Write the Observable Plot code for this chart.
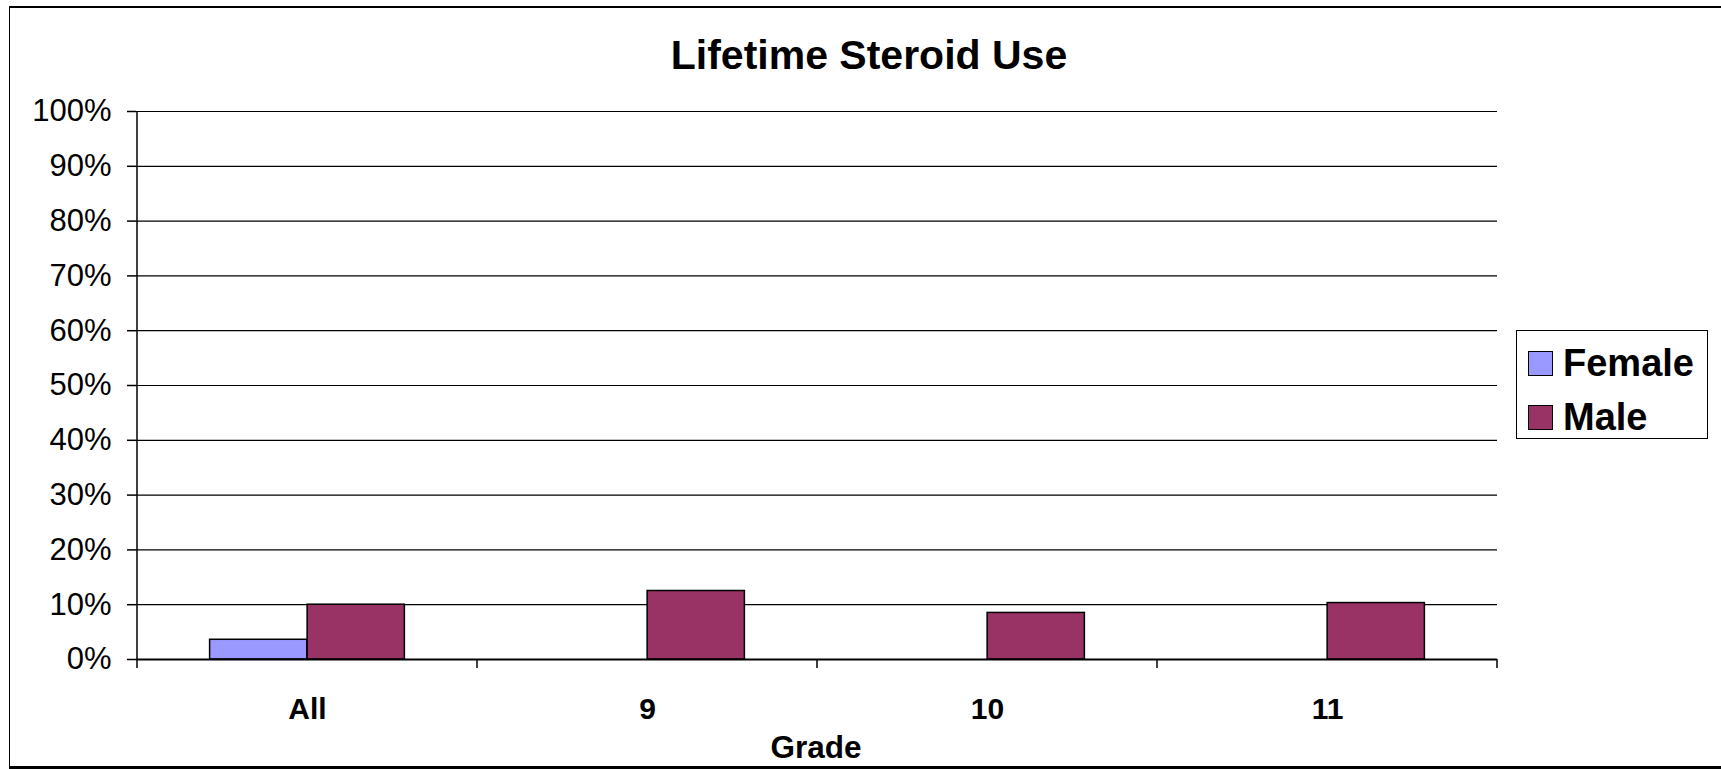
<!DOCTYPE html>
<html>
<head>
<meta charset="utf-8">
<script src="https://cdn.jsdelivr.net/npm/d3@7"></script>
<script src="https://cdn.jsdelivr.net/npm/@observablehq/plot@0.6"></script>
<style>
  html, body { margin: 0; padding: 0; background: #fff; overflow: hidden; }
  #wrap { position: relative; width: 1721px; height: 769px; font-family: "Liberation Sans", Arial, sans-serif; }
  #frame { position: absolute; left: 9px; top: 6px; width: 1730px; height: 758px;
           border-left: 1px solid #000; border-top: 2px solid #000; border-bottom: 3px solid #000; }
  #title { position: absolute; left: 869px; top: 55px; transform: translate(-50%, -50%);
           font-size: 41px; font-weight: bold; white-space: nowrap; color: #000; }
  #xlabel { position: absolute; left: 816px; top: 747px; transform: translate(-50%, -50%);
            font-size: 31.5px; font-weight: bold; white-space: nowrap; color: #000; }
  #legend { position: absolute; left: 1516px; top: 330px; width: 190px; height: 107px;
            border: 1.5px solid #000; background: #fff; }
  .item { position: absolute; left: 11px; height: 30px; display: flex; align-items: center;
          font-size: 38px; font-weight: bold; color: #000; }
  .sw { width: 23px; height: 23px; border: 1.5px solid #000; margin-right: 10px; box-sizing: content-box; }
  #chart { position: absolute; left: 0; top: 0; }
</style>
</head>
<body>
<div id="wrap">
  <div id="frame"></div>
  <div id="chart"></div>
  <div id="title">Lifetime Steroid Use</div>
  <div id="xlabel">Grade</div>
  <div id="legend"></div>
</div>
<script>
// ---- data ----
const grades = ["All", "9", "10", "11"];
const seriesNames = ["Female", "Male"];
const femaleValues = [3.6, null, null, null];
const maleValues = [10.0, 12.5, 8.5, 10.3];
const yTickValues = [0, 10, 20, 30, 40, 50, 60, 70, 80, 90, 100];
const seriesColors = ["#9999FF", "#993366"];
const xAxisLabel = "Grade";

// ---- layout ----
const W = 1721, H = 769;
const mL = 136, mR = 224, mT = 111, mB = 110;
const band = (W - mL - mR) / grades.length;
const barW = band * 0.2866;
const outer = band / 2 - barW;

const table = grades.map((g, i) => ({grade: g, female: femaleValues[i], male: maleValues[i]}));

const boundaryTicks = (index, scales) => {
  const x = scales.x, y = scales.y;
  const g = d3.create("svg:g");
  const dom = x.domain();
  const bw = typeof x.bandwidth === "function" ? x.bandwidth() : band;
  const edges = dom.map(d => x(d)).concat([x(dom[dom.length - 1]) + bw]);
  const y0 = y(0);
  g.selectAll("line.t").data(edges).join("line")
    .attr("x1", d => d).attr("x2", d => d)
    .attr("y1", y0).attr("y2", y0 + 9)
    .attr("stroke", "#000").attr("stroke-width", 1.5);
  g.append("line")
    .attr("x1", edges[0]).attr("x2", edges[0])
    .attr("y1", y(100)).attr("y2", y0)
    .attr("stroke", "#000").attr("stroke-width", 1.5);
  return g.node();
};

const chart = Plot.plot({
  width: W,
  height: H,
  marginLeft: mL,
  marginRight: mR,
  marginTop: mT,
  marginBottom: mB,
  style: {fontFamily: "Liberation Sans, Arial, sans-serif", color: "#000", background: "transparent", overflow: "visible"},
  x: {domain: grades, padding: 0, label: null},
  y: {domain: [0, 100], label: null},
  marks: [
    Plot.gridY(yTickValues, {stroke: "#000", strokeOpacity: 1, strokeWidth: 1.2}),
    Plot.barY(table, {x: "grade", y: "female", fill: seriesColors[0], stroke: "#000", strokeWidth: 1.5,
                      insetLeft: outer, insetRight: band / 2}),
    Plot.barY(table, {x: "grade", y: "male", fill: seriesColors[1], stroke: "#000", strokeWidth: 1.5,
                      insetLeft: band / 2, insetRight: outer}),
    Plot.ruleY([0], {stroke: "#000", strokeWidth: 2}),
    boundaryTicks,
    Plot.axisY({ticks: yTickValues, tickFormat: d => d + "%", tickSize: 9, tickPadding: 16,
                fontSize: 31, label: null, stroke: "#000", strokeWidth: 1.5}),
    Plot.axisX({tickSize: 0, tickPadding: 38, fontSize: 30, fontWeight: "bold", label: null})
  ]
});
document.getElementById("chart").appendChild(chart);

document.getElementById("xlabel").textContent = xAxisLabel;
const legend = document.getElementById("legend");
seriesNames.forEach((name, i) => {
  const item = document.createElement("div");
  item.className = "item";
  item.style.top = (i === 0 ? 17 : 71) + "px";
  const sw = document.createElement("div");
  sw.className = "sw";
  sw.style.background = seriesColors[i];
  item.appendChild(sw);
  const t = document.createElement("span");
  t.textContent = name;
  item.appendChild(t);
  legend.appendChild(item);
});
</script>
</body>
</html>
